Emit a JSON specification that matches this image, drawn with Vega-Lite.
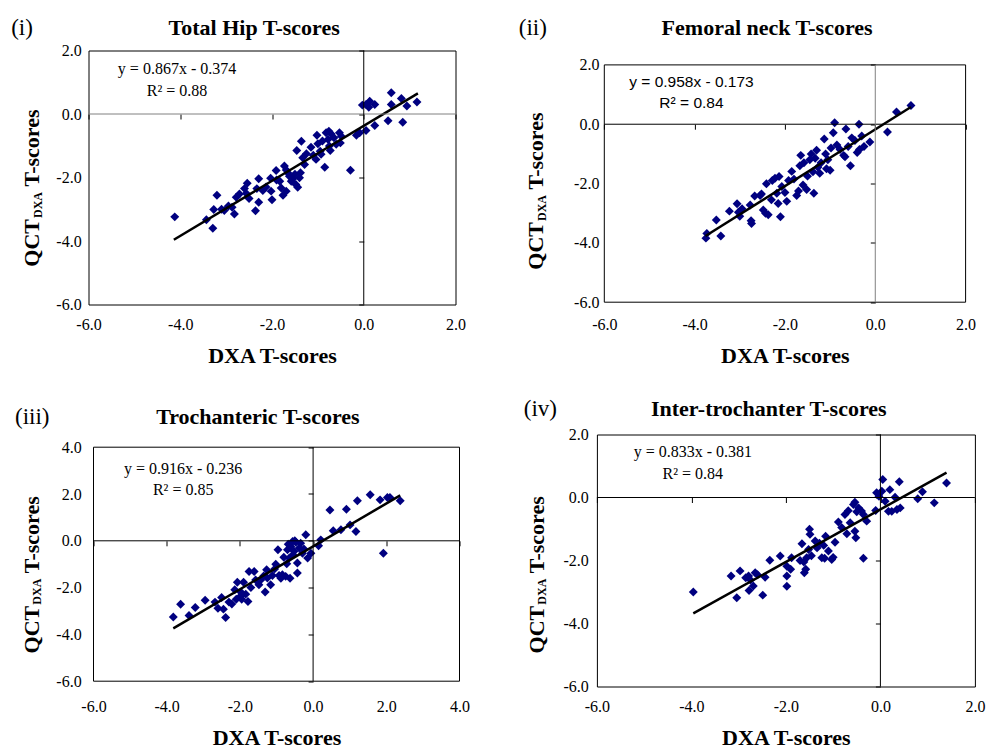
{
  "$schema": "https://vega.github.io/schema/vega-lite/v6.json",
  "padding": {"left": 9.5, "top": 15.5, "right": 0, "bottom": 0},
  "background": "white",
  "datasets": {
    "p1": [
      {"x": -4.12, "y": -3.24}, {"x": -3.43, "y": -3.33}, {"x": -3.29, "y": -3.6}, {"x": -3.27, "y": -3.01}, {"x": -3.2, "y": -2.56},
      {"x": -3.04, "y": -3.04}, {"x": -2.87, "y": -2.94}, {"x": -2.82, "y": -3.15}, {"x": -2.78, "y": -2.62}, {"x": -2.71, "y": -2.52},
      {"x": -2.56, "y": -2.5}, {"x": -2.54, "y": -2.18}, {"x": -2.5, "y": -2.66}, {"x": -2.36, "y": -3.05}, {"x": -2.29, "y": -2.78},
      {"x": -2.29, "y": -2.04}, {"x": -2.33, "y": -2.35}, {"x": -2.2, "y": -2.41}, {"x": -2.03, "y": -2.02}, {"x": -2.02, "y": -2.43},
      {"x": -2.0, "y": -2.7}, {"x": -1.91, "y": -1.78}, {"x": -1.83, "y": -2.12}, {"x": -1.76, "y": -2.56}, {"x": -1.73, "y": -1.64},
      {"x": -1.69, "y": -1.76}, {"x": -1.62, "y": -1.96}, {"x": -1.58, "y": -2.12}, {"x": -1.55, "y": -2.05}, {"x": -1.48, "y": -2.22},
      {"x": -1.44, "y": -2.31}, {"x": -1.4, "y": -2.01}, {"x": -1.46, "y": -1.15}, {"x": -1.36, "y": -0.86}, {"x": -1.33, "y": -1.38},
      {"x": -1.29, "y": -1.59}, {"x": -1.69, "y": -2.43}, {"x": -1.8, "y": -2.33}, {"x": -1.02, "y": -0.67}, {"x": -1.0, "y": -0.94},
      {"x": -1.04, "y": -1.43}, {"x": -0.95, "y": -1.17}, {"x": -0.85, "y": -1.68}, {"x": -0.82, "y": -0.59}, {"x": -0.76, "y": -0.54},
      {"x": -0.78, "y": -0.8}, {"x": -0.75, "y": -1.01}, {"x": -0.71, "y": -0.63}, {"x": -0.73, "y": -1.15}, {"x": -0.53, "y": -0.59},
      {"x": -0.49, "y": -0.7}, {"x": -0.51, "y": -0.91}, {"x": -0.29, "y": -1.77}, {"x": -0.16, "y": -0.67}, {"x": -0.09, "y": -0.59},
      {"x": -0.03, "y": 0.28}, {"x": 0.05, "y": 0.3}, {"x": 0.13, "y": 0.4}, {"x": 0.11, "y": 0.21}, {"x": 0.24, "y": 0.3},
      {"x": 0.05, "y": -0.52}, {"x": 0.24, "y": -0.36}, {"x": 0.53, "y": -0.21}, {"x": 0.6, "y": 0.67}, {"x": 0.6, "y": 0.3},
      {"x": 0.82, "y": 0.49}, {"x": 0.85, "y": -0.26}, {"x": 0.94, "y": 0.25}, {"x": 1.16, "y": 0.38},
      {"x": -1.5, "y": -1.9}, {"x": -1.38, "y": -1.85}, {"x": -1.65, "y": -1.86}, {"x": -1.9, "y": -2.08}, {"x": -2.13, "y": -2.3},
      {"x": -1.25, "y": -1.25}, {"x": -1.15, "y": -1.05}, {"x": -0.9, "y": -0.85}, {"x": -0.65, "y": -0.75}, {"x": -0.6, "y": -0.95},
      {"x": -2.6, "y": -2.35}, {"x": -3.1, "y": -3.0}, {"x": -2.95, "y": -2.9}, {"x": -1.1, "y": -1.3}, {"x": -0.93, "y": -1.27}
    ],
    "p2": [
      {"x": -3.75, "y": -3.84}, {"x": -3.73, "y": -3.68}, {"x": -3.52, "y": -3.23}, {"x": -3.42, "y": -3.77}, {"x": -3.23, "y": -2.93},
      {"x": -3.06, "y": -2.68}, {"x": -3.03, "y": -2.97}, {"x": -3.0, "y": -3.1}, {"x": -2.95, "y": -2.85}, {"x": -2.77, "y": -2.72},
      {"x": -2.75, "y": -3.25}, {"x": -2.74, "y": -3.35}, {"x": -2.67, "y": -2.42}, {"x": -2.55, "y": -2.4}, {"x": -2.52, "y": -2.35},
      {"x": -2.48, "y": -2.89}, {"x": -2.43, "y": -3.0}, {"x": -2.41, "y": -2.01}, {"x": -2.37, "y": -3.05}, {"x": -2.3, "y": -2.55},
      {"x": -2.28, "y": -1.9}, {"x": -2.22, "y": -1.82}, {"x": -2.18, "y": -2.33}, {"x": -2.15, "y": -2.67}, {"x": -2.13, "y": -1.76},
      {"x": -2.1, "y": -3.12}, {"x": -2.07, "y": -2.1}, {"x": -2.0, "y": -2.3}, {"x": -1.96, "y": -2.6}, {"x": -1.92, "y": -1.9},
      {"x": -1.85, "y": -1.59}, {"x": -1.8, "y": -1.85}, {"x": -1.74, "y": -2.4}, {"x": -1.7, "y": -2.25}, {"x": -1.67, "y": -1.4},
      {"x": -1.65, "y": -1.05}, {"x": -1.6, "y": -2.05}, {"x": -1.58, "y": -1.3}, {"x": -1.52, "y": -2.2}, {"x": -1.5, "y": -1.75},
      {"x": -1.45, "y": -1.2}, {"x": -1.42, "y": -1.0}, {"x": -1.38, "y": -1.6}, {"x": -1.36, "y": -2.33}, {"x": -1.33, "y": -1.15},
      {"x": -1.3, "y": -0.88}, {"x": -1.27, "y": -1.45}, {"x": -1.23, "y": -1.65}, {"x": -1.2, "y": -1.3}, {"x": -1.13, "y": -0.5},
      {"x": -1.1, "y": -1.0}, {"x": -1.08, "y": -1.5}, {"x": -1.05, "y": -1.2}, {"x": -1.0, "y": -1.55}, {"x": -0.98, "y": -0.8},
      {"x": -0.93, "y": -0.29}, {"x": -0.9, "y": 0.05}, {"x": -0.85, "y": -0.7}, {"x": -0.78, "y": -0.85}, {"x": -0.7, "y": -1.05},
      {"x": -0.67, "y": -1.1}, {"x": -0.65, "y": -0.16}, {"x": -0.6, "y": -0.75}, {"x": -0.55, "y": -1.4}, {"x": -0.52, "y": -0.46},
      {"x": -0.45, "y": -0.55}, {"x": -0.4, "y": -0.95}, {"x": -0.36, "y": 0.0}, {"x": -0.35, "y": -0.85}, {"x": -0.3, "y": -0.4},
      {"x": -0.25, "y": -0.75}, {"x": -0.12, "y": -0.6}, {"x": 0.27, "y": -0.26}, {"x": 0.47, "y": 0.41}, {"x": 0.79, "y": 0.63}
    ],
    "p3": [
      {"x": -3.82, "y": -3.26}, {"x": -3.62, "y": -2.71}, {"x": -3.39, "y": -3.19}, {"x": -3.22, "y": -2.85}, {"x": -2.95, "y": -2.54},
      {"x": -2.68, "y": -2.62}, {"x": -2.6, "y": -2.88}, {"x": -2.5, "y": -2.42}, {"x": -2.45, "y": -2.92}, {"x": -2.39, "y": -3.28},
      {"x": -2.3, "y": -2.62}, {"x": -2.22, "y": -2.7}, {"x": -2.14, "y": -2.09}, {"x": -2.07, "y": -1.77}, {"x": -1.99, "y": -2.38},
      {"x": -1.97, "y": -2.2}, {"x": -1.9, "y": -1.77}, {"x": -1.84, "y": -2.28}, {"x": -1.78, "y": -2.59}, {"x": -1.75, "y": -1.31},
      {"x": -1.61, "y": -1.31}, {"x": -1.57, "y": -1.67}, {"x": -1.48, "y": -1.88}, {"x": -1.43, "y": -1.67}, {"x": -1.31, "y": -2.19},
      {"x": -1.27, "y": -1.24}, {"x": -1.25, "y": -1.59}, {"x": -1.16, "y": -1.88}, {"x": -1.11, "y": -1.48}, {"x": -1.02, "y": -1.0},
      {"x": -0.96, "y": -0.38}, {"x": -0.93, "y": -1.48}, {"x": -0.88, "y": -1.6}, {"x": -0.84, "y": -1.45}, {"x": -0.75, "y": -1.52},
      {"x": -0.72, "y": -0.98}, {"x": -0.7, "y": -0.38}, {"x": -0.65, "y": -0.73}, {"x": -0.63, "y": -1.6}, {"x": -0.61, "y": -0.24},
      {"x": -0.56, "y": -0.03}, {"x": -0.52, "y": -0.45}, {"x": -0.47, "y": -0.06}, {"x": -0.43, "y": -1.38}, {"x": -0.43, "y": -0.95},
      {"x": -0.38, "y": -0.31}, {"x": -0.34, "y": -0.1}, {"x": -0.29, "y": -0.53}, {"x": -0.2, "y": 0.26}, {"x": -0.15, "y": -0.74},
      {"x": -0.06, "y": -0.53}, {"x": 0.15, "y": -0.21}, {"x": 0.21, "y": 0.04}, {"x": 0.46, "y": 1.32}, {"x": 0.55, "y": 0.43},
      {"x": 0.76, "y": 0.47}, {"x": 0.91, "y": 1.35}, {"x": 1.01, "y": 0.68}, {"x": 1.17, "y": 0.4}, {"x": 1.21, "y": 1.71},
      {"x": 1.56, "y": 1.97}, {"x": 1.83, "y": 1.75}, {"x": 1.92, "y": -0.53}, {"x": 2.03, "y": 1.85}, {"x": 2.1, "y": 1.85},
      {"x": 2.38, "y": 1.71},
      {"x": -0.8, "y": -0.7}, {"x": -0.55, "y": -0.6}, {"x": -0.68, "y": -0.15}, {"x": -1.05, "y": -1.2}, {"x": -1.35, "y": -1.5},
      {"x": -1.7, "y": -2.0}, {"x": -1.95, "y": -2.5}, {"x": -2.1, "y": -2.5}, {"x": -0.25, "y": -0.35}, {"x": -0.5, "y": 0.0}
    ],
    "p4": [
      {"x": -3.96, "y": -3.0}, {"x": -3.16, "y": -2.49}, {"x": -3.04, "y": -3.18}, {"x": -2.97, "y": -2.33}, {"x": -2.79, "y": -2.49},
      {"x": -2.75, "y": -2.62}, {"x": -2.78, "y": -2.95}, {"x": -2.69, "y": -2.81}, {"x": -2.65, "y": -2.39}, {"x": -2.49, "y": -3.1},
      {"x": -2.44, "y": -2.53}, {"x": -2.34, "y": -1.99}, {"x": -2.12, "y": -1.86}, {"x": -1.98, "y": -2.18}, {"x": -1.98, "y": -2.49},
      {"x": -1.98, "y": -2.82}, {"x": -1.9, "y": -2.28}, {"x": -1.88, "y": -1.91}, {"x": -1.7, "y": -2.0}, {"x": -1.66, "y": -1.47},
      {"x": -1.61, "y": -2.39}, {"x": -1.58, "y": -2.28}, {"x": -1.56, "y": -1.91}, {"x": -1.5, "y": -1.01}, {"x": -1.49, "y": -1.17},
      {"x": -1.46, "y": -1.85}, {"x": -1.38, "y": -1.38}, {"x": -1.34, "y": -1.6}, {"x": -1.29, "y": -1.45}, {"x": -1.24, "y": -1.91},
      {"x": -1.18, "y": -1.93}, {"x": -1.16, "y": -1.23}, {"x": -1.1, "y": -1.7}, {"x": -1.03, "y": -1.97}, {"x": -1.0, "y": -1.9},
      {"x": -0.96, "y": -1.42}, {"x": -0.89, "y": -0.78}, {"x": -0.75, "y": -0.54}, {"x": -0.71, "y": -1.15}, {"x": -0.68, "y": -0.42},
      {"x": -0.64, "y": -0.8}, {"x": -0.57, "y": -0.22}, {"x": -0.54, "y": -0.15}, {"x": -0.54, "y": -1.07}, {"x": -0.52, "y": -1.28},
      {"x": -0.46, "y": -0.33}, {"x": -0.4, "y": -0.43}, {"x": -0.36, "y": -1.93}, {"x": -0.36, "y": -0.54}, {"x": -0.29, "y": -0.75},
      {"x": -0.1, "y": -0.41}, {"x": -0.08, "y": 0.15}, {"x": -0.03, "y": 0.04}, {"x": 0.03, "y": 0.2}, {"x": 0.05, "y": 0.57},
      {"x": 0.1, "y": -0.12}, {"x": 0.17, "y": -0.44}, {"x": 0.2, "y": 0.25}, {"x": 0.24, "y": -0.44}, {"x": 0.31, "y": 0.01},
      {"x": 0.35, "y": -0.38}, {"x": 0.4, "y": 0.5}, {"x": 0.42, "y": -0.33}, {"x": 0.79, "y": -0.04}, {"x": 0.89, "y": 0.18},
      {"x": 1.14, "y": -0.17}, {"x": 1.4, "y": 0.46},
      {"x": -1.62, "y": -2.05}, {"x": -1.52, "y": -1.65}, {"x": -1.2, "y": -1.52}, {"x": -0.82, "y": -0.95}, {"x": -0.5, "y": -0.45},
      {"x": -2.6, "y": -2.45}, {"x": -2.85, "y": -2.55}
    ],
    "l1": [{"x": -4.14, "y": -3.96}, {"x": 1.18, "y": 0.65}],
    "l2": [{"x": -3.76, "y": -3.77}, {"x": 0.79, "y": 0.58}],
    "l3": [{"x": -3.82, "y": -3.74}, {"x": 2.38, "y": 1.94}],
    "l4": [{"x": -3.96, "y": -3.68}, {"x": 1.4, "y": 0.79}],
    "e1": [{"x": -4.07, "y": 1.41, "t": "y = 0.867x - 0.374"}, {"x": -4.07, "y": 0.72, "t": "R² = 0.88"}],
    "e2": [{"x": -4.07, "y": 1.42, "t": "y = 0.958x - 0.173"}, {"x": -4.07, "y": 0.71, "t": "R² = 0.84"}],
    "e3": [{"x": -3.55, "y": 3.08, "t": "y = 0.916x - 0.236"}, {"x": -3.55, "y": 2.15, "t": "R² = 0.85"}],
    "e4": [{"x": -3.97, "y": 1.45, "t": "y = 0.833x - 0.381"}, {"x": -3.97, "y": 0.75, "t": "R² = 0.84"}]
  },
  "columns": 2,
  "align": "each",
  "spacing": {"row": 29, "column": 48.4},
  "concat": [
    {
      "width": 367, "height": 254,
      "layer": [
        {
          "data": {"name": "p1"},
          "mark": {"type": "point", "shape": "diamond", "filled": true, "color": "#000080", "size": 80, "opacity": 1},
          "encoding": {
            "x": {"field": "x", "type": "quantitative", "scale": {"domain": [-6, 2], "nice": false, "zero": false},
              "axis": {"orient": "bottom", "labels": true, "values": [-6, -4, -2, 0, 2], "labelExpr": "(datum.value < 0 ? '-' : '') + format(abs(datum.value), '.1f')", "labelFont": "Liberation Serif", "labelFontSize": 16, "labelColor": "black", "labelBaseline": "alphabetic", "labelPadding": 24.7, "labelFlush": false, "labelOverlap": false,
                "title": "DXA T-scores", "titleX": 183.5, "titleY": 57.7, "titleAlign": "center", "titleBaseline": "alphabetic", "titleAngle": 0}},
            "y": {"field": "y", "type": "quantitative", "scale": {"domain": [-6, 2], "nice": false, "zero": false},
              "axis": {"orient": "left", "labels": true, "values": [-6, -4, -2, 0, 2], "labelExpr": "(datum.value < 0 ? '-' : '') + format(abs(datum.value), '.1f')", "labelFont": "Liberation Serif", "labelFontSize": 16, "labelColor": "black", "labelPadding": 7.3, "labelOverlap": false,
                "title": "QCT", "titleX": -50, "titleY": 215.7, "titleAngle": -90, "titleAlign": "left", "titleBaseline": "alphabetic"}}
          }
        },
        {
          "data": {"name": "l1"},
          "mark": {"type": "line", "color": "black", "strokeWidth": 2.5},
          "encoding": {
            "x": {"field": "x", "type": "quantitative", "scale": {"domain": [-6, 2], "nice": false, "zero": false},
              "axis": {"orient": "bottom", "offset": -190.5, "ticks": true, "tickSize": 5, "values": [-6, -4, -2, 0, 2], "title": null}},
            "y": {"field": "y", "type": "quantitative", "scale": {"domain": [-6, 2], "nice": false, "zero": false},
              "axis": {"orient": "left", "offset": -275.25, "ticks": true, "tickSize": 5, "values": [-6, -4, -2, 0, 2], "title": null}}
          }
        },
        {
          "data": {"values": [{"v": 0}]},
          "mark": {"type": "rule", "color": "#808080", "strokeWidth": 1},
          "encoding": {
            "y": {"field": "v", "type": "quantitative", "scale": {"domain": [-6, 2], "nice": false, "zero": false},
              "axis": {"orient": "left", "title": "T-scores", "titleX": -50, "titleY": 135.5, "titleAngle": -90, "titleAlign": "left", "titleBaseline": "alphabetic"}}
          }
        },
        {
          "data": {"values": [{"v": 0}]},
          "mark": {"type": "rule", "color": "black", "strokeWidth": 1},
          "encoding": {
            "x": {"field": "v", "type": "quantitative", "scale": {"domain": [-6, 2], "nice": false, "zero": false},
              "axis": {"orient": "top", "title": "Total Hip T-scores", "titleX": 165.2, "titleY": -16.2, "titleAlign": "center", "titleBaseline": "alphabetic", "titleAngle": 0}}
          }
        },
        {
          "data": {"name": "e1"},
          "mark": {"type": "text", "font": "Liberation Serif", "fontSize": 16, "align": "center", "baseline": "middle", "color": "black"},
          "encoding": {
            "x": {"field": "x", "type": "quantitative", "scale": {"domain": [-6, 2], "nice": false, "zero": false},
              "axis": {"orient": "top", "title": "(i)", "titleFontWeight": "normal", "titleFontSize": 23, "titleX": -77.8, "titleY": -16.2, "titleAlign": "left", "titleBaseline": "alphabetic", "titleAngle": 0}},
            "y": {"field": "y", "type": "quantitative", "scale": {"domain": [-6, 2], "nice": false, "zero": false},
              "axis": {"orient": "left", "title": "DXA", "titleFontSize": 12, "titleX": -47.5, "titleY": 167, "titleAngle": -90, "titleAlign": "left", "titleBaseline": "alphabetic"}},
            "text": {"field": "t"}
          }
        }
      ],
      "resolve": {"axis": {"x": "independent", "y": "independent"}}
    },
    {
      "width": 368.7, "height": 251.7,
      "view": {"stroke": null},
      "layer": [
        {
          "data": {"values": [{"x1": -6, "x2": 2, "y1": -6, "y2": 2}]},
          "mark": {"type": "rect", "filled": false, "fill": null, "stroke": "black", "strokeWidth": 1},
          "encoding": {
            "x": {"field": "x1", "type": "quantitative", "scale": {"domain": [-6, 2], "range": [7.4, 368.7], "nice": false, "zero": false}, "axis": null},
            "x2": {"field": "x2"},
            "y": {"field": "y1", "type": "quantitative", "scale": {"domain": [-6, 2], "range": [251.7, 14.4], "nice": false, "zero": false}, "axis": null},
            "y2": {"field": "y2"}
          }
        },
        {
          "data": {"name": "p2"},
          "mark": {"type": "point", "shape": "diamond", "filled": true, "color": "#000080", "size": 80, "opacity": 1},
          "encoding": {
            "x": {"field": "x", "type": "quantitative", "scale": {"domain": [-6, 2], "range": [7.4, 368.7], "nice": false, "zero": false},
              "axis": {"orient": "bottom", "labels": true, "values": [-6, -4, -2, 0, 2], "labelExpr": "(datum.value < 0 ? '-' : '') + format(abs(datum.value), '.1f')", "labelFont": "Liberation Serif", "labelFontSize": 16, "labelColor": "black", "labelBaseline": "alphabetic", "labelPadding": 27, "labelFlush": false, "labelOverlap": false,
                "title": "DXA T-scores", "titleX": 188, "titleY": 60, "titleAlign": "center", "titleBaseline": "alphabetic", "titleAngle": 0}},
            "y": {"field": "y", "type": "quantitative", "scale": {"domain": [-6, 2], "range": [251.7, 14.4], "nice": false, "zero": false},
              "axis": {"orient": "left", "labels": true, "values": [-6, -4, -2, 0, 2], "labelExpr": "(datum.value < 0 ? '-' : '') + format(abs(datum.value), '.1f')", "labelFont": "Liberation Serif", "labelFontSize": 16, "labelColor": "black", "labelPadding": -2, "labelOverlap": false,
                "title": "QCT", "titleX": -54.3, "titleY": 218.7, "titleAngle": -90, "titleAlign": "left", "titleBaseline": "alphabetic"}}
          }
        },
        {
          "data": {"name": "l2"},
          "mark": {"type": "line", "color": "black", "strokeWidth": 2.5},
          "encoding": {
            "x": {"field": "x", "type": "quantitative", "scale": {"domain": [-6, 2], "range": [7.4, 368.7], "nice": false, "zero": false},
              "axis": {"orient": "bottom", "offset": -178, "ticks": true, "tickSize": 5, "values": [-6, -4, -2, 0, 2], "title": null}},
            "y": {"field": "y", "type": "quantitative", "scale": {"domain": [-6, 2], "range": [251.7, 14.4], "nice": false, "zero": false},
              "axis": {"orient": "left", "offset": -278.4, "ticks": true, "tickSize": 5, "values": [-6, -4, -2, 0, 2], "title": null}}
          }
        },
        {
          "data": {"values": [{"v": 0, "a": -6, "b": 2}]},
          "mark": {"type": "rule", "color": "black", "strokeWidth": 1},
          "encoding": {
            "y": {"field": "v", "type": "quantitative", "scale": {"domain": [-6, 2], "range": [251.7, 14.4], "nice": false, "zero": false},
              "axis": {"orient": "left", "title": "T-scores", "titleX": -54.3, "titleY": 138.5, "titleAngle": -90, "titleAlign": "left", "titleBaseline": "alphabetic"}},
            "x": {"field": "a", "type": "quantitative", "scale": {"domain": [-6, 2], "range": [7.4, 368.7], "nice": false, "zero": false}, "axis": null},
            "x2": {"field": "b"}
          }
        },
        {
          "data": {"values": [{"v": 0, "a": -6, "b": 2}]},
          "mark": {"type": "rule", "color": "#808080", "strokeWidth": 1},
          "encoding": {
            "x": {"field": "v", "type": "quantitative", "scale": {"domain": [-6, 2], "range": [7.4, 368.7], "nice": false, "zero": false},
              "axis": {"orient": "top", "title": "Femoral neck T-scores", "titleX": 169.7, "titleY": -16, "titleAlign": "center", "titleBaseline": "alphabetic", "titleAngle": 0}},
            "y": {"field": "a", "type": "quantitative", "scale": {"domain": [-6, 2], "range": [251.7, 14.4], "nice": false, "zero": false}, "axis": null},
            "y2": {"field": "b"}
          }
        },
        {
          "data": {"name": "e2"},
          "mark": {"type": "text", "font": "Liberation Sans", "fontSize": 15.5, "align": "center", "baseline": "middle", "color": "black"},
          "encoding": {
            "x": {"field": "x", "type": "quantitative", "scale": {"domain": [-6, 2], "range": [7.4, 368.7], "nice": false, "zero": false},
              "axis": {"orient": "top", "title": "(ii)", "titleFontWeight": "normal", "titleFontSize": 23, "titleX": -78.6, "titleY": -16, "titleAlign": "left", "titleBaseline": "alphabetic", "titleAngle": 0}},
            "y": {"field": "y", "type": "quantitative", "scale": {"domain": [-6, 2], "range": [251.7, 14.4], "nice": false, "zero": false},
              "axis": {"orient": "left", "title": "DXA", "titleFontSize": 12, "titleX": -51.8, "titleY": 170, "titleAngle": -90, "titleAlign": "left", "titleBaseline": "alphabetic"}},
            "text": {"field": "t"}
          }
        }
      ],
      "resolve": {"axis": {"x": "independent", "y": "independent"}}
    },
    {
      "width": 371, "height": 246.7,
      "view": {"stroke": null},
      "layer": [
        {
          "data": {"values": [{"x1": -6, "x2": 4, "y1": -6, "y2": 4}]},
          "mark": {"type": "rect", "filled": false, "fill": null, "stroke": "black", "strokeWidth": 1},
          "encoding": {
            "x": {"field": "x1", "type": "quantitative", "scale": {"domain": [-6, 4], "range": [5, 371], "nice": false, "zero": false}, "axis": null},
            "x2": {"field": "x2"},
            "y": {"field": "y1", "type": "quantitative", "scale": {"domain": [-6, 4], "range": [246.7, 12.7], "nice": false, "zero": false}, "axis": null},
            "y2": {"field": "y2"}
          }
        },
        {
          "data": {"name": "p3"},
          "mark": {"type": "point", "shape": "diamond", "filled": true, "color": "#000080", "size": 80, "opacity": 1},
          "encoding": {
            "x": {"field": "x", "type": "quantitative", "scale": {"domain": [-6, 4], "range": [5, 371], "nice": false, "zero": false},
              "axis": {"orient": "bottom", "labels": true, "values": [-6, -4, -2, 0, 2, 4], "labelExpr": "(datum.value < 0 ? '-' : '') + format(abs(datum.value), '.1f')", "labelFont": "Liberation Serif", "labelFontSize": 16, "labelColor": "black", "labelBaseline": "alphabetic", "labelPadding": 30.7, "labelFlush": false, "labelOverlap": false,
                "title": "DXA T-scores", "titleX": 188, "titleY": 63, "titleAlign": "center", "titleBaseline": "alphabetic", "titleAngle": 0}},
            "y": {"field": "y", "type": "quantitative", "scale": {"domain": [-6, 4], "range": [246.7, 12.7], "nice": false, "zero": false},
              "axis": {"orient": "left", "labels": true, "values": [-6, -4, -2, 0, 2, 4], "labelExpr": "(datum.value < 0 ? '-' : '') + format(abs(datum.value), '.1f')", "labelFont": "Liberation Serif", "labelFontSize": 16, "labelColor": "black", "labelPadding": 7.3, "labelOverlap": false,
                "title": "QCT", "titleX": -50.3, "titleY": 218.4, "titleAngle": -90, "titleAlign": "left", "titleBaseline": "alphabetic"}}
          }
        },
        {
          "data": {"name": "l3"},
          "mark": {"type": "line", "color": "black", "strokeWidth": 2.5},
          "encoding": {
            "x": {"field": "x", "type": "quantitative", "scale": {"domain": [-6, 4], "range": [5, 371], "nice": false, "zero": false},
              "axis": {"orient": "bottom", "offset": -140.4, "ticks": true, "tickSize": 5, "values": [-6, -4, -2, 0, 2, 4], "title": null}},
            "y": {"field": "y", "type": "quantitative", "scale": {"domain": [-6, 4], "range": [246.7, 12.7], "nice": false, "zero": false},
              "axis": {"orient": "left", "offset": -224.6, "ticks": true, "tickSize": 5, "values": [-6, -4, -2, 0, 2, 4], "title": null}}
          }
        },
        {
          "data": {"values": [{"v": 0, "a": -6, "b": 4}]},
          "mark": {"type": "rule", "color": "black", "strokeWidth": 1},
          "encoding": {
            "y": {"field": "v", "type": "quantitative", "scale": {"domain": [-6, 4], "range": [246.7, 12.7], "nice": false, "zero": false},
              "axis": {"orient": "left", "title": "T-scores", "titleX": -50.3, "titleY": 138.2, "titleAngle": -90, "titleAlign": "left", "titleBaseline": "alphabetic"}},
            "x": {"field": "a", "type": "quantitative", "scale": {"domain": [-6, 4], "range": [5, 371], "nice": false, "zero": false}, "axis": null},
            "x2": {"field": "b"}
          }
        },
        {
          "data": {"values": [{"v": 0, "a": -6, "b": 4}]},
          "mark": {"type": "rule", "color": "black", "strokeWidth": 1},
          "encoding": {
            "x": {"field": "v", "type": "quantitative", "scale": {"domain": [-6, 4], "range": [5, 371], "nice": false, "zero": false},
              "axis": {"orient": "top", "title": "Trochanteric T-scores", "titleX": 168.9, "titleY": -11, "titleAlign": "center", "titleBaseline": "alphabetic", "titleAngle": 0}},
            "y": {"field": "a", "type": "quantitative", "scale": {"domain": [-6, 4], "range": [246.7, 12.7], "nice": false, "zero": false}, "axis": null},
            "y2": {"field": "b"}
          }
        },
        {
          "data": {"name": "e3"},
          "mark": {"type": "text", "font": "Liberation Serif", "fontSize": 16, "align": "center", "baseline": "middle", "color": "black"},
          "encoding": {
            "x": {"field": "x", "type": "quantitative", "scale": {"domain": [-6, 4], "range": [5, 371], "nice": false, "zero": false},
              "axis": {"orient": "top", "title": "(iii)", "titleFontWeight": "normal", "titleFontSize": 23, "titleX": -74, "titleY": -10.6, "titleAlign": "left", "titleBaseline": "alphabetic", "titleAngle": 0}},
            "y": {"field": "y", "type": "quantitative", "scale": {"domain": [-6, 4], "range": [246.7, 12.7], "nice": false, "zero": false},
              "axis": {"orient": "left", "title": "DXA", "titleFontSize": 12, "titleX": -47.8, "titleY": 169.7, "titleAngle": -90, "titleAlign": "left", "titleBaseline": "alphabetic"}},
            "text": {"field": "t"}
          }
        }
      ],
      "resolve": {"axis": {"x": "independent", "y": "independent"}}
    },
    {
      "width": 378, "height": 252,
      "layer": [
        {
          "data": {"name": "p4"},
          "mark": {"type": "point", "shape": "diamond", "filled": true, "color": "#000080", "size": 80, "opacity": 1},
          "encoding": {
            "x": {"field": "x", "type": "quantitative", "scale": {"domain": [-6, 2], "nice": false, "zero": false},
              "axis": {"orient": "bottom", "labels": true, "values": [-6, -4, -2, 0, 2], "labelExpr": "(datum.value < 0 ? '-' : '') + format(abs(datum.value), '.1f')", "labelFont": "Liberation Serif", "labelFontSize": 16, "labelColor": "black", "labelBaseline": "alphabetic", "labelPadding": 25.4, "labelFlush": false, "labelOverlap": false,
                "title": "DXA T-scores", "titleX": 189, "titleY": 57.5, "titleAlign": "center", "titleBaseline": "alphabetic", "titleAngle": 0}},
            "y": {"field": "y", "type": "quantitative", "scale": {"domain": [-6, 2], "nice": false, "zero": false},
              "axis": {"orient": "left", "labels": true, "values": [-6, -4, -2, 0, 2], "labelExpr": "(datum.value < 0 ? '-' : '') + format(abs(datum.value), '.1f')", "labelFont": "Liberation Serif", "labelFontSize": 16, "labelColor": "black", "labelPadding": 8.6, "labelOverlap": false,
                "title": "QCT", "titleX": -53.6, "titleY": 218.4, "titleAngle": -90, "titleAlign": "left", "titleBaseline": "alphabetic"}}
          }
        },
        {
          "data": {"name": "l4"},
          "mark": {"type": "line", "color": "black", "strokeWidth": 2.5},
          "encoding": {
            "x": {"field": "x", "type": "quantitative", "scale": {"domain": [-6, 2], "nice": false, "zero": false},
              "axis": {"orient": "bottom", "offset": -189, "ticks": true, "tickSize": 5, "values": [-6, -4, -2, 0, 2], "title": null}},
            "y": {"field": "y", "type": "quantitative", "scale": {"domain": [-6, 2], "nice": false, "zero": false},
              "axis": {"orient": "left", "offset": -283.5, "ticks": true, "tickSize": 5, "values": [-6, -4, -2, 0, 2], "title": null}}
          }
        },
        {
          "data": {"values": [{"v": 0}]},
          "mark": {"type": "rule", "color": "black", "strokeWidth": 1},
          "encoding": {
            "y": {"field": "v", "type": "quantitative", "scale": {"domain": [-6, 2], "nice": false, "zero": false},
              "axis": {"orient": "left", "title": "T-scores", "titleX": -53.6, "titleY": 138.2, "titleAngle": -90, "titleAlign": "left", "titleBaseline": "alphabetic"}}
          }
        },
        {
          "data": {"values": [{"v": 0}]},
          "mark": {"type": "rule", "color": "black", "strokeWidth": 1},
          "encoding": {
            "x": {"field": "v", "type": "quantitative", "scale": {"domain": [-6, 2], "nice": false, "zero": false},
              "axis": {"orient": "top", "title": "Inter-trochanter T-scores", "titleX": 171.4, "titleY": -19.3, "titleAlign": "center", "titleBaseline": "alphabetic", "titleAngle": 0}}
          }
        },
        {
          "data": {"name": "e4"},
          "mark": {"type": "text", "font": "Liberation Serif", "fontSize": 16, "align": "center", "baseline": "middle", "color": "black"},
          "encoding": {
            "x": {"field": "x", "type": "quantitative", "scale": {"domain": [-6, 2], "nice": false, "zero": false},
              "axis": {"orient": "top", "title": "(iv)", "titleFontWeight": "normal", "titleFontSize": 23, "titleX": -73.6, "titleY": -19.3, "titleAlign": "left", "titleBaseline": "alphabetic", "titleAngle": 0}},
            "y": {"field": "y", "type": "quantitative", "scale": {"domain": [-6, 2], "nice": false, "zero": false},
              "axis": {"orient": "left", "title": "DXA", "titleFontSize": 12, "titleX": -51.1, "titleY": 169.7, "titleAngle": -90, "titleAlign": "left", "titleBaseline": "alphabetic"}},
            "text": {"field": "t"}
          }
        }
      ],
      "resolve": {"axis": {"x": "independent", "y": "independent"}}
    }
  ],
  "config": {
    "font": "Liberation Serif",
    "view": {"stroke": "black", "strokeWidth": 1},
    "axis": {
      "grid": false, "domain": false, "ticks": false, "labels": false, "tickSize": 0,
      "tickColor": "black", "tickWidth": 1,
      "labelFont": "Liberation Serif", "labelFontSize": 16, "labelColor": "black",
      "titleFont": "Liberation Serif", "titleFontSize": 22, "titleFontWeight": "bold", "titleColor": "black"
    }
  }
}
